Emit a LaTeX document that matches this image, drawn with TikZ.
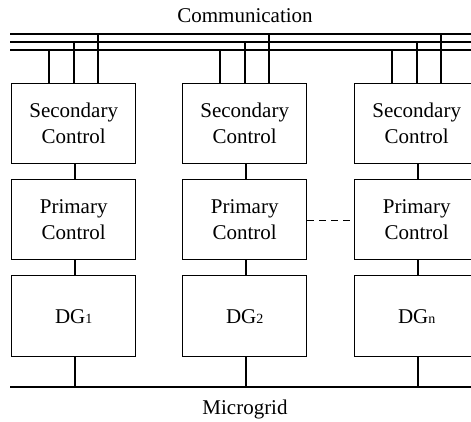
\documentclass[tikz,border=0pt]{standalone}
\usepackage{fontspec}
\setmainfont{Liberation Serif}
\begin{document}
\begin{tikzpicture}[x=1pt,y=-1pt,
  box/.style={draw,line width=1.4pt,minimum width=124pt,minimum height=80pt,inner sep=0pt,align=center,font=\fontsize{21}{26}\selectfont,anchor=north west},
  wire/.style={line width=1.4pt},
  lbl/.style={font=\fontsize{21}{26}\selectfont,anchor=base,inner sep=0pt}]
\useasboundingbox (0,0) rectangle (471,422);
% bus coordinates
\coordinate (ctl) at (10,34);  \coordinate (ctr) at (480,34);
\coordinate (cml) at (10,42);  \coordinate (cmr) at (480,42);
\coordinate (cbl) at (10,50);  \coordinate (cbr) at (480,50);
\coordinate (mgl) at (10,387); \coordinate (mgr) at (480,387);
\draw[wire] (ctl) -- (ctr);
\draw[wire] (cml) -- (cmr);
\draw[wire] (cbl) -- (cbr);
\draw[wire] (mgl) -- (mgr);
\node[lbl] (comm) at (245,22.5) {Communication};
\node[lbl] (mg) at (245,414) {Microgrid};
% columns
\foreach \i/\x/\sub in {1/11/1,2/182/2,3/354/n}{
  \node[box] (s\i) at (\x,83) {Secondary\\Control};
  \node[box] (p\i) at (\x,179) {Primary\\Control};
  \node[box,minimum height=81pt] (d\i) at (\x,275) {DG{\fontsize{14}{14}\selectfont\sub}};
  \draw[wire] ([xshift=38pt]s\i.north west) -- ([xshift=38pt]s\i.north west |- cbl);
  \draw[wire] ([xshift=63pt]s\i.north west) -- ([xshift=63pt]s\i.north west |- cml);
  \draw[wire] ([xshift=87pt]s\i.north west) -- ([xshift=87pt]s\i.north west |- ctl);
  \draw[wire] ([xshift=64pt]s\i.south west) -- ([xshift=64pt]p\i.north west);
  \draw[wire] ([xshift=64pt]p\i.south west) -- ([xshift=64pt]d\i.north west);
  \draw[wire] ([xshift=64pt]d\i.south west) -- ([xshift=64pt]d\i.south west |- mgl);
}
\draw[wire,dash pattern=on 7pt off 5pt] ([yshift=-1pt]p2.east) -- ([yshift=-1pt]p3.west);
\end{tikzpicture}
\end{document}
